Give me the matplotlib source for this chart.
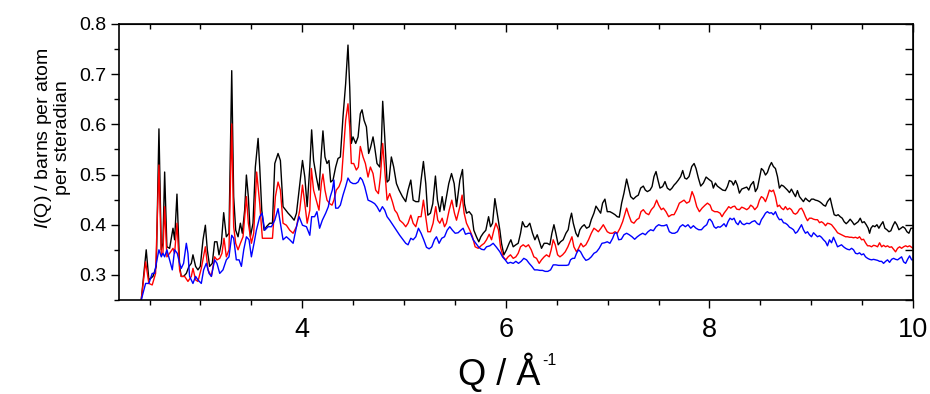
import matplotlib
matplotlib.use("Agg")
import matplotlib.pyplot as plt
from matplotlib.ticker import MultipleLocator

plt.rcParams['font.family'] = ['Liberation Sans', 'DejaVu Sans']
plt.rcParams['mathtext.fontset'] = 'custom'
plt.rcParams['mathtext.rm'] = 'Liberation Sans'
plt.rcParams['mathtext.it'] = 'Liberation Sans:italic'

# black curve
q_black = [2.418, 2.467, 2.493, 2.533, 2.566, 2.592, 2.615, 2.631, 2.648, 2.670, 2.697, 2.730, 2.746, 2.769,
           2.795, 2.811, 2.834, 2.861, 2.887, 2.910, 2.926, 2.952, 2.975, 2.998, 3.025, 3.048, 3.067, 3.090,
           3.116, 3.139, 3.162, 3.182, 3.205, 3.228, 3.254, 3.280, 3.307, 3.326, 3.346, 3.369, 3.392, 3.411,
           3.434, 3.451, 3.470, 3.490, 3.516, 3.539, 3.566, 3.582, 3.602, 3.625, 3.648, 3.680, 3.707, 3.730,
           3.762, 3.785, 3.811, 3.838, 3.861, 3.893, 3.920, 3.943, 3.969, 4.002, 4.025, 4.048, 4.074,
           4.092, 4.111, 4.138, 4.164, 4.187, 4.203, 4.223, 4.243, 4.262, 4.279, 4.302, 4.328, 4.351, 4.374,
           4.400, 4.426, 4.449, 4.466, 4.482, 4.498, 4.525, 4.548, 4.570, 4.587, 4.607, 4.630, 4.652, 4.672,
           4.695, 4.711, 4.734, 4.761, 4.777, 4.790, 4.810, 4.833, 4.852, 4.875, 4.898, 4.925, 4.951, 4.984,
           5.016, 5.039, 5.066, 5.089, 5.115, 5.144, 5.167, 5.190, 5.213, 5.233, 5.259, 5.282, 5.308, 5.328,
           5.351, 5.374, 5.393, 5.416, 5.439, 5.466, 5.492, 5.515, 5.548, 5.574, 5.593, 5.613, 5.639, 5.666,
           5.685, 5.711, 5.734, 5.754, 5.777, 5.803, 5.830, 5.849, 5.869, 5.892, 5.915, 5.941,
           5.957, 5.980, 6.006, 6.032, 6.049, 6.072, 6.098, 6.121, 6.144, 6.163, 6.186, 6.209, 6.235, 6.262,
           6.285, 6.308, 6.334, 6.350, 6.376, 6.406, 6.432, 6.452, 6.472, 6.491, 6.514, 6.537, 6.563, 6.590,
           6.612, 6.629, 6.645, 6.662, 6.688, 6.708, 6.727, 6.747, 6.770, 6.793, 6.819, 6.839, 6.865, 6.885,
           6.908, 6.931, 6.950, 6.973, 6.996, 7.022, 7.049, 7.072, 7.094, 7.114, 7.137, 7.160, 7.186, 7.206,
           7.226, 7.252, 7.278, 7.301, 7.324, 7.350, 7.370, 7.390, 7.416, 7.436, 7.455, 7.475, 7.494, 7.514,
           7.540, 7.563, 7.586, 7.612, 7.632, 7.652, 7.671, 7.694, 7.717, 7.737, 7.757, 7.776, 7.799, 7.826,
           7.849, 7.868, 7.891, 7.914, 7.940, 7.967, 7.990,
           8.022, 8.038, 8.058, 8.077, 8.104, 8.130, 8.156, 8.176, 8.195, 8.218, 8.235, 8.255, 8.274, 8.294,
           8.317, 8.340, 8.366, 8.386, 8.405, 8.432, 8.451, 8.471, 8.491, 8.510, 8.530, 8.550, 8.569, 8.589,
           8.609, 8.628, 8.648, 8.668, 8.687, 8.707, 8.727, 8.746, 8.766, 8.786, 8.805, 8.825, 8.845, 8.864,
           8.884, 8.904, 8.923, 8.943, 8.963, 8.982, 9.002, 9.022, 9.041, 9.061, 9.081, 9.100, 9.120, 9.140,
           9.159, 9.186, 9.205, 9.225, 9.245, 9.264, 9.284, 9.304, 9.323, 9.343, 9.363, 9.382, 9.402, 9.422,
           9.441, 9.461, 9.481, 9.500, 9.520, 9.540, 9.559, 9.573, 9.586, 9.605, 9.625, 9.645, 9.664, 9.684,
           9.704, 9.723, 9.743, 9.763, 9.782, 9.802, 9.822, 9.841, 9.861, 9.881, 9.900, 9.920, 9.940, 9.959,
           9.979, 9.999]
i_black = [0.250, 0.350, 0.290, 0.297, 0.317, 0.591, 0.350, 0.363, 0.505, 0.356, 0.353, 0.393, 0.370, 0.461,
           0.317, 0.297, 0.297, 0.303, 0.317, 0.323, 0.340, 0.317, 0.310, 0.317, 0.370, 0.399, 0.350, 0.317,
           0.323, 0.366, 0.366, 0.340, 0.363, 0.424, 0.376, 0.383, 0.707, 0.456, 0.389, 0.376, 0.403, 0.383,
           0.429, 0.499, 0.456, 0.376, 0.403, 0.515, 0.572, 0.515, 0.429, 0.389, 0.396, 0.403, 0.403, 0.522,
           0.542, 0.528, 0.436, 0.429, 0.423, 0.416, 0.409, 0.423, 0.469, 0.528, 0.495, 0.436, 0.515,
           0.589, 0.528, 0.495, 0.469, 0.542, 0.587, 0.535, 0.522, 0.528, 0.485, 0.489, 0.515, 0.532, 0.535,
           0.615, 0.681, 0.758, 0.674, 0.562, 0.575, 0.562, 0.575, 0.621, 0.629, 0.608, 0.595, 0.542, 0.555,
           0.575, 0.555, 0.522, 0.515, 0.562, 0.646, 0.575, 0.485, 0.489, 0.535, 0.515, 0.482, 0.469, 0.456,
           0.446, 0.469, 0.489, 0.449, 0.446, 0.446, 0.489, 0.526, 0.482, 0.419, 0.423, 0.442, 0.497, 0.449,
           0.426, 0.456, 0.429, 0.456, 0.482, 0.502, 0.482, 0.436, 0.489, 0.510, 0.442, 0.423, 0.426, 0.419,
           0.389, 0.376, 0.366, 0.376, 0.383, 0.389, 0.416, 0.396, 0.403, 0.452, 0.423, 0.389,
           0.363, 0.340, 0.350, 0.363, 0.370, 0.356, 0.360, 0.363, 0.383, 0.406, 0.396, 0.396, 0.403, 0.383,
           0.370, 0.380, 0.363, 0.353, 0.363, 0.363, 0.360, 0.383, 0.400, 0.383, 0.360, 0.366, 0.370, 0.383,
           0.390, 0.410, 0.423, 0.403, 0.383, 0.376, 0.390, 0.396, 0.400, 0.393, 0.396, 0.410, 0.423, 0.437,
           0.430, 0.423, 0.443, 0.451, 0.426, 0.426, 0.423, 0.420, 0.416, 0.415, 0.443, 0.463, 0.491, 0.473,
           0.456, 0.451, 0.456, 0.459, 0.473, 0.477, 0.469, 0.466, 0.469, 0.476, 0.496, 0.506, 0.489, 0.473,
           0.476, 0.486, 0.473, 0.469, 0.473, 0.479, 0.483, 0.489, 0.496, 0.508, 0.493, 0.491, 0.496, 0.516,
           0.522, 0.512, 0.493, 0.477, 0.483, 0.495, 0.491,
           0.486, 0.473, 0.483, 0.477, 0.473, 0.469, 0.468, 0.476, 0.488, 0.486, 0.479, 0.488, 0.479, 0.463,
           0.471, 0.473, 0.475, 0.469, 0.479, 0.486, 0.466, 0.473, 0.493, 0.512, 0.508, 0.499, 0.504, 0.516,
           0.524, 0.516, 0.512, 0.496, 0.473, 0.479, 0.477, 0.473, 0.469, 0.464, 0.471, 0.463, 0.456, 0.468,
           0.456, 0.451, 0.446, 0.453, 0.449, 0.446, 0.451, 0.451, 0.449, 0.448, 0.446, 0.443, 0.439, 0.437,
           0.446, 0.453, 0.436, 0.420, 0.418, 0.420, 0.416, 0.413, 0.406, 0.402, 0.406, 0.411, 0.406, 0.400,
           0.403, 0.406, 0.413, 0.404, 0.406, 0.400, 0.393, 0.383, 0.393, 0.398, 0.396, 0.400, 0.393, 0.400,
           0.406, 0.393, 0.390, 0.386, 0.388, 0.398, 0.406, 0.400, 0.390, 0.393, 0.396, 0.393, 0.386, 0.383,
           0.393, 0.393]

# red curve
q_red = [2.418, 2.461, 2.493, 2.526, 2.559, 2.592, 2.615, 2.631, 2.648, 2.670, 2.697, 2.730, 2.746, 2.769,
         2.795, 2.811, 2.844, 2.877, 2.910, 2.926, 2.952, 2.975, 3.008, 3.048, 3.074, 3.107, 3.139, 3.162,
         3.189, 3.211, 3.231, 3.254, 3.280, 3.307, 3.326, 3.346, 3.369, 3.392, 3.418, 3.451, 3.470, 3.500,
         3.523, 3.552, 3.582, 3.608, 3.631, 3.664, 3.707, 3.736, 3.762, 3.785, 3.811, 3.844, 3.877, 3.910,
         3.943, 3.975, 4.002, 4.025, 4.048, 4.074,
         4.089, 4.111, 4.138, 4.164, 4.187, 4.203, 4.223, 4.243, 4.269, 4.292, 4.311, 4.334, 4.361, 4.384,
         4.407, 4.426, 4.449, 4.466, 4.482, 4.505, 4.531, 4.551, 4.570, 4.597, 4.620, 4.646, 4.669, 4.695,
         4.721, 4.748, 4.767, 4.790, 4.810, 4.833, 4.859, 4.885, 4.908, 4.931, 4.957, 4.990, 5.016, 5.039,
         5.066, 5.089, 5.115, 5.141, 5.167, 5.190, 5.213, 5.233, 5.259, 5.285, 5.311, 5.331, 5.351, 5.374,
         5.397, 5.416, 5.443, 5.469, 5.495, 5.515, 5.548, 5.570, 5.590, 5.613, 5.646, 5.672, 5.698, 5.728,
         5.761, 5.787, 5.810, 5.836, 5.859, 5.882, 5.902, 5.927,
         5.947, 5.973, 5.999, 6.022, 6.045, 6.072, 6.098, 6.121, 6.144, 6.170, 6.196, 6.222, 6.249, 6.275,
         6.301, 6.327, 6.350, 6.376, 6.399, 6.426, 6.445, 6.465, 6.485, 6.508, 6.531, 6.557, 6.583, 6.609,
         6.629, 6.649, 6.668, 6.694, 6.714, 6.737, 6.760, 6.786, 6.812, 6.839, 6.865, 6.885, 6.908, 6.934,
         6.957, 6.976, 6.996, 7.022, 7.049, 7.072, 7.094, 7.121, 7.147, 7.167, 7.186, 7.206, 7.232, 7.258,
         7.285, 7.308, 7.327, 7.350, 7.376, 7.403, 7.429, 7.455, 7.481, 7.501, 7.527, 7.547, 7.573, 7.599,
         7.629, 7.652, 7.678, 7.704, 7.727, 7.750, 7.776, 7.803, 7.829, 7.849, 7.875, 7.901, 7.927, 7.957,
         7.980, 8.006,
         8.025, 8.051, 8.077, 8.104, 8.123, 8.143, 8.169, 8.189, 8.209, 8.228, 8.248, 8.268, 8.294, 8.317,
         8.340, 8.366, 8.386, 8.405, 8.425, 8.445, 8.471, 8.491, 8.510, 8.530, 8.550, 8.569, 8.589, 8.609,
         8.628, 8.648, 8.668, 8.687, 8.707, 8.727, 8.746, 8.766, 8.786, 8.805, 8.825, 8.845, 8.864, 8.884,
         8.904, 8.923, 8.943, 8.963, 8.982, 9.002, 9.022, 9.041, 9.061, 9.081, 9.100, 9.120, 9.140, 9.159,
         9.179, 9.199, 9.218, 9.238, 9.258, 9.277, 9.297, 9.317, 9.337, 9.356, 9.376, 9.396, 9.415, 9.435,
         9.455, 9.474, 9.494, 9.514, 9.533, 9.553, 9.573, 9.592, 9.612, 9.632, 9.651, 9.671, 9.691, 9.710,
         9.730, 9.749, 9.769, 9.789, 9.809, 9.828, 9.848, 9.868, 9.887, 9.907, 9.927, 9.946, 9.966, 9.986,
         9.999]
i_red = [0.250, 0.326, 0.283, 0.280, 0.303, 0.519, 0.340, 0.343, 0.436, 0.336, 0.343, 0.353, 0.343, 0.403,
         0.310, 0.297, 0.297, 0.287, 0.297, 0.313, 0.290, 0.287, 0.313, 0.356, 0.310, 0.297, 0.336, 0.330,
         0.333, 0.343, 0.373, 0.336, 0.350, 0.601, 0.396, 0.363, 0.350, 0.363, 0.376, 0.456, 0.403, 0.363,
         0.383, 0.505, 0.442, 0.373, 0.373, 0.373, 0.373, 0.456, 0.485, 0.469, 0.403, 0.399, 0.389, 0.383,
         0.396, 0.429, 0.479, 0.442, 0.403, 0.429,
         0.512, 0.469, 0.449, 0.429, 0.482, 0.501, 0.469, 0.449, 0.442, 0.439, 0.449, 0.469, 0.476, 0.489,
         0.555, 0.608, 0.641, 0.595, 0.522, 0.522, 0.509, 0.515, 0.556, 0.535, 0.522, 0.495, 0.515, 0.502,
         0.469, 0.462, 0.495, 0.562, 0.509, 0.449, 0.462, 0.446, 0.429, 0.423, 0.409, 0.403, 0.396, 0.403,
         0.419, 0.403, 0.396, 0.416, 0.416, 0.449, 0.416, 0.386, 0.386, 0.403, 0.436, 0.409, 0.403, 0.413,
         0.396, 0.403, 0.429, 0.449, 0.423, 0.409, 0.436, 0.459, 0.423, 0.403, 0.389, 0.376, 0.356, 0.353,
         0.359, 0.363, 0.370, 0.381, 0.370, 0.389, 0.403, 0.390,
         0.356, 0.336, 0.330, 0.336, 0.340, 0.333, 0.336, 0.343, 0.356, 0.360, 0.356, 0.360, 0.350, 0.336,
         0.333, 0.323, 0.330, 0.336, 0.340, 0.336, 0.350, 0.370, 0.360, 0.340, 0.336, 0.340, 0.346, 0.356,
         0.366, 0.376, 0.356, 0.346, 0.353, 0.363, 0.356, 0.360, 0.370, 0.383, 0.393, 0.390, 0.386, 0.393,
         0.400, 0.393, 0.386, 0.383, 0.383, 0.386, 0.383, 0.393, 0.406, 0.420, 0.433, 0.420, 0.406, 0.403,
         0.410, 0.413, 0.426, 0.430, 0.423, 0.420, 0.430, 0.436, 0.449, 0.439, 0.430, 0.433, 0.426, 0.416,
         0.420, 0.420, 0.430, 0.443, 0.446, 0.449, 0.443, 0.446, 0.466, 0.456, 0.436, 0.426, 0.433, 0.439,
         0.443, 0.439,
         0.429, 0.426, 0.426, 0.423, 0.416, 0.423, 0.430, 0.436, 0.433, 0.436, 0.437, 0.431, 0.430, 0.435,
         0.433, 0.430, 0.433, 0.439, 0.436, 0.430, 0.436, 0.449, 0.456, 0.453, 0.446, 0.456, 0.469, 0.466,
         0.469, 0.456, 0.436, 0.439, 0.433, 0.430, 0.436, 0.430, 0.433, 0.430, 0.423, 0.421, 0.424, 0.431,
         0.433, 0.426, 0.416, 0.408, 0.413, 0.413, 0.411, 0.410, 0.410, 0.404, 0.406, 0.403, 0.398, 0.403,
         0.402, 0.400, 0.395, 0.390, 0.384, 0.382, 0.380, 0.378, 0.376, 0.376, 0.375, 0.375, 0.374, 0.375,
         0.373, 0.376, 0.370, 0.371, 0.364, 0.358, 0.358, 0.356, 0.359, 0.358, 0.356, 0.364, 0.356, 0.359,
         0.356, 0.358, 0.355, 0.356, 0.351, 0.346, 0.353, 0.356, 0.353, 0.356, 0.358, 0.356, 0.358, 0.355,
         0.353]

# blue curve
q_blue = [2.418, 2.461, 2.493, 2.526, 2.549, 2.566, 2.592, 2.615, 2.631, 2.648, 2.670, 2.697, 2.723, 2.746,
          2.772, 2.795, 2.811, 2.834, 2.861, 2.877, 2.893, 2.926, 2.952, 2.975, 3.008, 3.031, 3.057, 3.084,
          3.107, 3.139, 3.162, 3.189, 3.221, 3.254, 3.280, 3.307, 3.326, 3.352, 3.379, 3.402, 3.425, 3.451,
          3.477, 3.500, 3.526, 3.549, 3.582, 3.605, 3.631, 3.664, 3.697, 3.730, 3.762, 3.785, 3.811, 3.844,
          3.877, 3.910, 3.943, 3.969, 4.002, 4.041, 4.074,
          4.092, 4.121, 4.144, 4.170, 4.197, 4.230, 4.256, 4.275, 4.295, 4.311, 4.328, 4.351, 4.374, 4.400,
          4.426, 4.449, 4.472, 4.498, 4.525, 4.548, 4.570, 4.590, 4.613, 4.646, 4.679, 4.711, 4.734, 4.761,
          4.787, 4.810, 4.833, 4.859, 4.892, 4.925, 4.957, 4.990, 5.016, 5.039, 5.066, 5.089, 5.115, 5.141,
          5.167, 5.193, 5.220, 5.246, 5.272, 5.298, 5.318, 5.344, 5.370, 5.397, 5.423, 5.449, 5.475, 5.502,
          5.531, 5.557, 5.580, 5.603, 5.630, 5.652, 5.679, 5.705, 5.734, 5.761, 5.787, 5.810, 5.843, 5.875,
          5.908, 5.941,
          5.967, 5.993, 6.019, 6.045, 6.072, 6.098, 6.124, 6.150, 6.176, 6.203, 6.229, 6.255, 6.281, 6.308,
          6.334, 6.360, 6.386, 6.412, 6.439, 6.465, 6.491, 6.517, 6.544, 6.570, 6.596, 6.616, 6.635, 6.655,
          6.675, 6.694, 6.714, 6.734, 6.760, 6.786, 6.812, 6.839, 6.865, 6.891, 6.917, 6.944, 6.970, 6.996,
          7.022, 7.049, 7.068, 7.088, 7.108, 7.134, 7.160, 7.186, 7.212, 7.239, 7.265, 7.291, 7.318, 7.344,
          7.370, 7.396, 7.422, 7.449, 7.475, 7.501, 7.527, 7.553, 7.580, 7.606, 7.632, 7.658, 7.685, 7.711,
          7.737, 7.763, 7.789, 7.816, 7.842, 7.868, 7.894, 7.921, 7.947, 7.973, 7.993,
          8.005, 8.025, 8.045, 8.064, 8.084, 8.104, 8.123, 8.143, 8.163, 8.182, 8.202, 8.222, 8.241, 8.261,
          8.281, 8.300, 8.320, 8.340, 8.366, 8.392, 8.418, 8.445, 8.471, 8.491, 8.510, 8.530, 8.550, 8.569,
          8.589, 8.609, 8.628, 8.648, 8.668, 8.687, 8.707, 8.727, 8.746, 8.766, 8.786, 8.805, 8.825, 8.845,
          8.864, 8.884, 8.904, 8.923, 8.943, 8.963, 8.982, 9.002, 9.022, 9.041, 9.061, 9.081, 9.100, 9.120,
          9.140, 9.159, 9.179, 9.199, 9.218, 9.238, 9.258, 9.277, 9.297, 9.317, 9.337, 9.356, 9.376, 9.396,
          9.415, 9.435, 9.455, 9.474, 9.494, 9.514, 9.533, 9.553, 9.573, 9.592, 9.612, 9.632, 9.651, 9.671,
          9.691, 9.710, 9.730, 9.749, 9.769, 9.789, 9.809, 9.828, 9.848, 9.868, 9.887, 9.907, 9.927, 9.946,
          9.966, 9.986, 9.999]
i_blue = [0.250, 0.283, 0.283, 0.303, 0.303, 0.323, 0.350, 0.336, 0.343, 0.336, 0.350, 0.330, 0.310, 0.350,
          0.343, 0.323, 0.313, 0.323, 0.363, 0.343, 0.297, 0.283, 0.297, 0.290, 0.283, 0.310, 0.323, 0.303,
          0.297, 0.330, 0.323, 0.303, 0.310, 0.330, 0.336, 0.379, 0.373, 0.330, 0.330, 0.317, 0.350, 0.376,
          0.370, 0.336, 0.363, 0.389, 0.416, 0.423, 0.389, 0.396, 0.396, 0.409, 0.432, 0.403, 0.370, 0.376,
          0.370, 0.363, 0.396, 0.416, 0.399, 0.396, 0.379,
          0.416, 0.416, 0.426, 0.393, 0.409, 0.423, 0.436, 0.456, 0.469, 0.489, 0.433, 0.433, 0.439, 0.459,
          0.476, 0.493, 0.485, 0.482, 0.482, 0.485, 0.494, 0.489, 0.476, 0.449, 0.446, 0.442, 0.436, 0.426,
          0.436, 0.429, 0.416, 0.409, 0.399, 0.389, 0.379, 0.370, 0.363, 0.360, 0.373, 0.370, 0.376, 0.393,
          0.383, 0.370, 0.355, 0.352, 0.356, 0.370, 0.376, 0.363, 0.373, 0.376, 0.389, 0.396, 0.389, 0.383,
          0.384, 0.389, 0.393, 0.381, 0.383, 0.383, 0.370, 0.363, 0.355, 0.351, 0.350, 0.356, 0.358, 0.363,
          0.355, 0.346,
          0.336, 0.330, 0.323, 0.325, 0.323, 0.327, 0.323, 0.327, 0.333, 0.330, 0.323, 0.317, 0.310, 0.310,
          0.309, 0.309, 0.307, 0.307, 0.310, 0.320, 0.320, 0.319, 0.319, 0.319, 0.319, 0.320, 0.330, 0.333,
          0.333, 0.343, 0.350, 0.346, 0.336, 0.329, 0.331, 0.336, 0.343, 0.346, 0.353, 0.363, 0.364, 0.366,
          0.363, 0.373, 0.383, 0.384, 0.370, 0.371, 0.380, 0.383, 0.380, 0.376, 0.371, 0.376, 0.380, 0.383,
          0.380, 0.386, 0.390, 0.388, 0.396, 0.400, 0.398, 0.398, 0.400, 0.386, 0.383, 0.383, 0.386, 0.396,
          0.400, 0.396, 0.400, 0.393, 0.398, 0.393, 0.390, 0.390, 0.396, 0.400, 0.410,
          0.411, 0.406, 0.396, 0.393, 0.396, 0.395, 0.398, 0.402, 0.396, 0.406, 0.413, 0.410, 0.413, 0.404,
          0.400, 0.408, 0.402, 0.400, 0.403, 0.402, 0.406, 0.408, 0.402, 0.400, 0.410, 0.416, 0.423, 0.426,
          0.423, 0.424, 0.420, 0.426, 0.416, 0.410, 0.411, 0.404, 0.403, 0.400, 0.395, 0.393, 0.390, 0.383,
          0.386, 0.393, 0.400, 0.390, 0.383, 0.386, 0.380, 0.376, 0.384, 0.380, 0.376, 0.378, 0.375, 0.370,
          0.366, 0.358, 0.370, 0.364, 0.375, 0.366, 0.356, 0.358, 0.360, 0.356, 0.353, 0.351, 0.350, 0.353,
          0.350, 0.343, 0.342, 0.344, 0.340, 0.342, 0.336, 0.333, 0.331, 0.330, 0.331, 0.330, 0.329, 0.327,
          0.327, 0.323, 0.327, 0.330, 0.325, 0.331, 0.333, 0.331, 0.330, 0.333, 0.336, 0.326, 0.323, 0.331,
          0.338, 0.330, 0.330]

fig = plt.figure(figsize=(9.3, 3.94), dpi=100)
ax = fig.add_axes([0.128, 0.2386, 0.8538, 0.7005])

ax.plot(q_black, i_black, color='black', lw=1.0)
ax.plot(q_red, i_red, color='red', lw=1.0)
ax.plot(q_blue, i_blue, color='blue', lw=1.0)

ax.set_xlim(2.2, 10)
ax.set_ylim(0.25, 0.8)

ax.xaxis.set_major_locator(MultipleLocator(2))
ax.xaxis.set_minor_locator(MultipleLocator(0.5))
ax.yaxis.set_minor_locator(MultipleLocator(0.05))
ax.set_yticks([0.3, 0.4, 0.5, 0.6, 0.7, 0.8])
ax.set_yticklabels(['0.3', '0.4', '0.5', '0.6', '0.7', '0.8'])

ax.tick_params(which='major', direction='out', length=6, width=1.0, colors='black')
ax.tick_params(which='minor', direction='out', length=3.5, width=1.0)
ax.tick_params(axis='y', labelsize=14, pad=3)
ax.tick_params(axis='x', labelsize=19.5, pad=6)

for sp in ax.spines.values():
    sp.set_linewidth(1.2)

# inward ticks on top and right
top = ax.secondary_xaxis('top')
top.xaxis.set_major_locator(MultipleLocator(2))
top.xaxis.set_minor_locator(MultipleLocator(0.5))
top.tick_params(which='major', direction='in', length=6, width=1.0, labeltop=False)
top.tick_params(which='minor', direction='in', length=3.5, width=1.0)
right = ax.secondary_yaxis('right')
right.yaxis.set_major_locator(MultipleLocator(0.1))
right.yaxis.set_minor_locator(MultipleLocator(0.05))
right.tick_params(which='both', direction='in', length=6, width=1.0, labelright=False)

fig.text(0.056, 0.65, "$I$(Q) / barns per atom\nper steradian", rotation=90,
         ha='center', va='center', multialignment='center', fontsize=14, linespacing=1.0)
fig.text(0.581, 0.022, "Q / Å", ha='right', va='baseline', fontsize=26)
fig.text(0.583, 0.073, "-1", ha='left', va='baseline', fontsize=11.5)

fig.savefig('out.png', dpi=100)
